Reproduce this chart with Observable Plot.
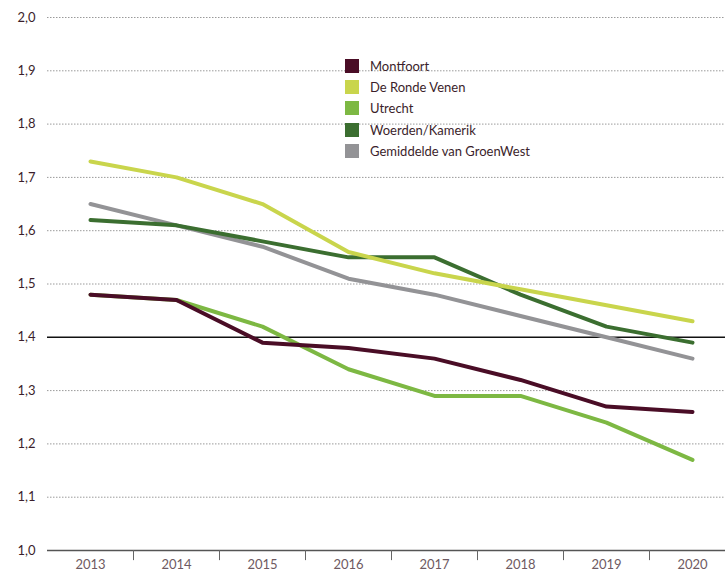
<!DOCTYPE html>
<html>
<head>
<meta charset="utf-8">
<script src="https://cdn.jsdelivr.net/npm/d3@7"></script>
<script src="https://cdn.jsdelivr.net/npm/@observablehq/plot@0.6"></script>
<style>
  html, body { margin: 0; padding: 0; background: #fff; }
  #wrap { position: relative; width: 725px; height: 572px; font-family: Lato, "Open Sans", sans-serif; font-variant-numeric: oldstyle-nums; }
  #legend { position: absolute; left: 345px; top: 55px; font-size: 13px; color: #3b1e2b; }
  #legend .item { display: flex; align-items: center; height: 21.4px; }
  #legend .sw { width: 14px; height: 14px; margin-right: 11px; }
</style>
</head>
<body>
<div id="wrap"><div id="legend"></div></div>
<script>
const years = [2013, 2014, 2015, 2016, 2017, 2018, 2019, 2020];
const seriesNames = ["Montfoort", "De Ronde Venen", "Utrecht", "Woerden/Kamerik", "Gemiddelde van GroenWest"];
const seriesColors = ["#4a0d26", "#c9d54c", "#7db843", "#3b6e30", "#939396"];
const montfoort = [1.48, 1.47, 1.39, 1.38, 1.36, 1.32, 1.27, 1.26];
const rondeVenen = [1.73, 1.70, 1.65, 1.56, 1.52, 1.49, 1.46, 1.43];
const utrecht = [1.48, 1.47, 1.42, 1.34, 1.29, 1.29, 1.24, 1.17];
const woerden = [1.62, 1.61, 1.58, 1.55, 1.55, 1.48, 1.42, 1.39];
const gemiddelde = [1.65, 1.61, 1.57, 1.51, 1.48, 1.44, 1.40, 1.36];
const yTicks = [1.0, 1.1, 1.2, 1.3, 1.4, 1.5, 1.6, 1.7, 1.8, 1.9, 2.0];
const referenceValue = 1.4;
const tickBetween = [2013.5, 2014.5, 2015.5, 2016.5, 2017.5, 2018.5, 2019.5];

const valuesBySeries = [montfoort, rondeVenen, utrecht, woerden, gemiddelde];
const drawOrder = [4, 3, 1, 2, 0];
const rows = [];
for (const i of drawOrder) {
  years.forEach((yr, j) => rows.push({series: seriesNames[i], year: yr, value: valuesBySeries[i][j]}));
}

const chart = Plot.plot({
  width: 725,
  height: 572,
  marginLeft: 47,
  marginTop: 17,
  marginBottom: 22,
  marginRight: 0,
  style: {fontFamily: "Lato, 'Open Sans', sans-serif", fontSize: "13px", fontVariantNumeric: "oldstyle-nums", background: "#fff"},
  x: {domain: [2012.5, 2020.5], range: [47, 735], label: null},
  y: {domain: [1.0, 2.0], label: null},
  color: {domain: seriesNames, range: seriesColors},
  marks: [
    Plot.ruleY(yTicks.filter(v => v !== 1.0 && v !== referenceValue), {stroke: "#9a9a9a", strokeWidth: 1, strokeDasharray: "1.5,1.5"}),
    Plot.ruleY([referenceValue], {stroke: "#111", strokeWidth: 1.5}),
    Plot.ruleY([1.0], {stroke: "#555", strokeWidth: 1.5}),
    Plot.ruleX(tickBetween, {y1: 0.981, y2: 1.0, stroke: "#666", strokeWidth: 1}),
    Plot.axisY(yTicks, {label: null, tickSize: 0, tickPadding: 12, tickFormat: d => d.toFixed(1).replace(".", ","), fill: "#3b1e2b", fontSize: 13, textAnchor: "end"}),
    Plot.axisX(years, {label: null, tickSize: 0, tickPadding: 9, tickFormat: d => String(d), fill: "#6e5a62", fontSize: 13}),
    Plot.line(rows, {x: "year", y: "value", z: "series", stroke: "series", strokeWidth: 4, strokeLinejoin: "round", strokeLinecap: "round"})
  ]
});
document.getElementById("wrap").prepend(chart);

const legend = document.getElementById("legend");
seriesNames.forEach((name, i) => {
  const item = document.createElement("div");
  item.className = "item";
  item.innerHTML = `<div class="sw" style="background:${seriesColors[i]}"></div><span>${name}</span>`;
  legend.appendChild(item);
});
</script>
</body>
</html>
